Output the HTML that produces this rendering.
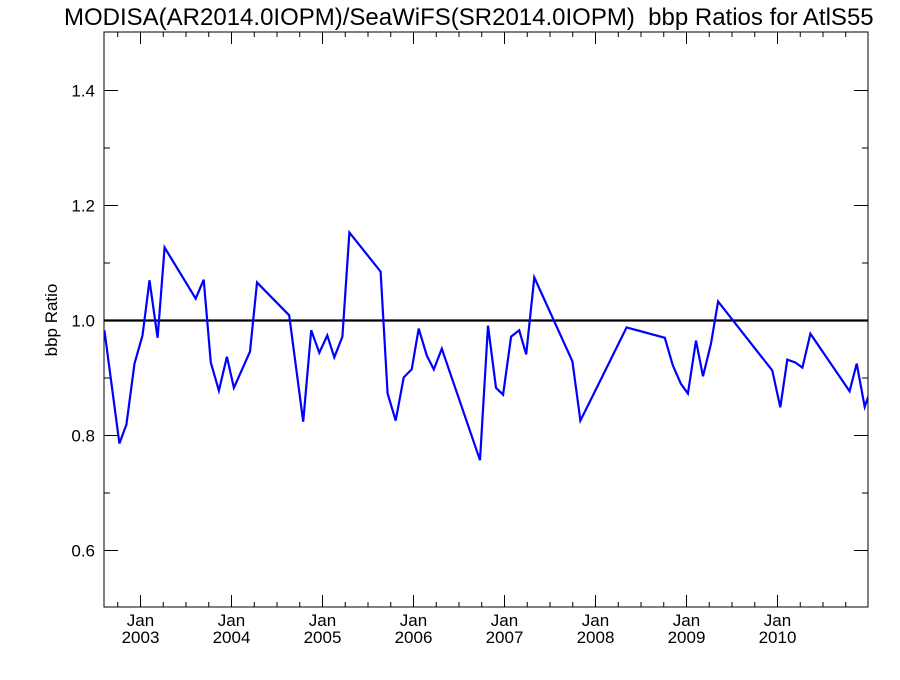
<!DOCTYPE html>
<html><head><meta charset="utf-8"><style>
body{margin:0;background:#fff}
svg text{font-family:"Liberation Sans",Helvetica,sans-serif;fill:#000}
</style></head><body>
<svg id="chart" width="900" height="675" viewBox="0 0 900 675" xmlns="http://www.w3.org/2000/svg">
<rect width="900" height="675" fill="#fff"/>
<text x="64" y="25" font-size="24" style="white-space:pre">MODISA(AR2014.0IOPM)/SeaWiFS(SR2014.0IOPM)  bbp Ratios for AtlS55</text>
<text transform="translate(57,320) rotate(-90)" text-anchor="middle" font-size="17">bbp Ratio</text>
<g id="axes"></g>
<g id="series"></g>
</svg>
<script>
const dates=[2002.603,2002.768,2002.845,2002.934,2003.022,2003.099,2003.188,2003.265,2003.607,2003.695,2003.773,2003.861,2003.949,2004.026,2004.203,2004.280,2004.634,2004.788,2004.876,2004.965,2005.053,2005.130,2005.219,2005.296,2005.638,2005.715,2005.804,2005.892,2005.980,2006.057,2006.146,2006.223,2006.311,2006.731,2006.819,2006.907,2006.985,2007.073,2007.161,2007.238,2007.327,2007.746,2007.834,2007.923,2008.342,2008.762,2008.850,2008.938,2009.015,2009.104,2009.181,2009.269,2009.347,2009.943,2010.031,2010.108,2010.196,2010.274,2010.362,2010.792,2010.870,2010.958,2011.035];
const ratios=[0.983,0.786,0.819,0.925,0.974,1.070,0.970,1.127,1.038,1.071,0.927,0.878,0.937,0.883,0.946,1.066,1.009,0.824,0.983,0.944,0.974,0.936,0.972,1.153,1.085,0.873,0.826,0.901,0.915,0.986,0.939,0.915,0.951,0.757,0.991,0.883,0.871,0.972,0.983,0.941,1.075,0.929,0.826,0.854,0.988,0.970,0.922,0.890,0.873,0.965,0.903,0.960,1.033,0.913,0.849,0.932,0.927,0.918,0.977,0.877,0.925,0.850,0.885];
const yTicks=[0.6,0.8,1.0,1.2,1.4];
const yTickLabels=["0.6","0.8","1.0","1.2","1.4"];
const xYears=[2003,2004,2005,2006,2007,2008,2009,2010];
const refValue=[1.0];

const L=104,R=868,T=32,B=607;
const X0=2003, XPX=140.5, PPY=91.0;
const xs=d=>XPX+(d-X0)*PPY;
const ys=v=>T+(1.5-v)/(1.0)*(B-T)+1;
const NS="http://www.w3.org/2000/svg";
function mk(tag,attrs,parent){const e=document.createElementNS(NS,tag);for(const k in attrs)e.setAttribute(k,attrs[k]);parent.appendChild(e);return e;}
const ax=document.getElementById('axes'), se=document.getElementById('series');

const frame=mk('rect',{x:L,y:T,width:R-L,height:B-T,fill:'none',stroke:'#000','stroke-width':1},ax);



for(let k=6;k<=14;k++){
  const v=k/10; const y=ys(v); const major=(k%2===0);
  const len=major?14:6;
  const t1=mk('line',{x1:L,x2:L+len,y1:y,y2:y,stroke:'#000'},ax);
  
  
  const t2=mk('line',{x1:R,x2:R-len,y1:y,y2:y,stroke:'#000'},ax);
  
  
}
yTicks.forEach((v,i)=>{
  const t=mk('text',{x:L-9,y:ys(v)+6,'text-anchor':'end','font-size':17},ax);
  t.textContent=yTickLabels[i];
  
  
});
for(let q=0;q<=36;q++){
  const d=2002.5+q*0.25;
  const x=xs(d); if(x<L||x>R) continue;
  const major=(q%4===2);
  const len=major?12:5;
  const t1=mk('line',{x1:x,x2:x,y1:B,y2:B-len,stroke:'#000'},ax);
  
  
  const t2=mk('line',{x1:x,x2:x,y1:T,y2:T+len,stroke:'#000'},ax);
  
  
}
xYears.forEach(yr=>{
  const x=xs(yr);
  const a=mk('text',{x:x,y:626,'text-anchor':'middle','font-size':17},ax);
  a.textContent='Jan';
  
  
  const b=mk('text',{x:x,y:643,'text-anchor':'middle','font-size':17},ax);
  b.textContent=String(yr);
  
  
});
const ref=mk('line',{x1:L,x2:R,y1:ys(refValue[0]),y2:ys(refValue[0]),stroke:'#000','stroke-width':2.2},se);


const cp=mk('clipPath',{id:'clip'},se); mk('rect',{x:L,y:T,width:R-L,height:B-T},cp);
const pts=dates.map((d,i)=>xs(d).toFixed(1)+','+ys(ratios[i]).toFixed(1)).join(' ');
const pl=mk('polyline',{points:pts,fill:'none',stroke:'#0000ff','stroke-width':2.2,'stroke-linejoin':'miter','clip-path':'url(#clip)'},se);


</script>
</body></html>
